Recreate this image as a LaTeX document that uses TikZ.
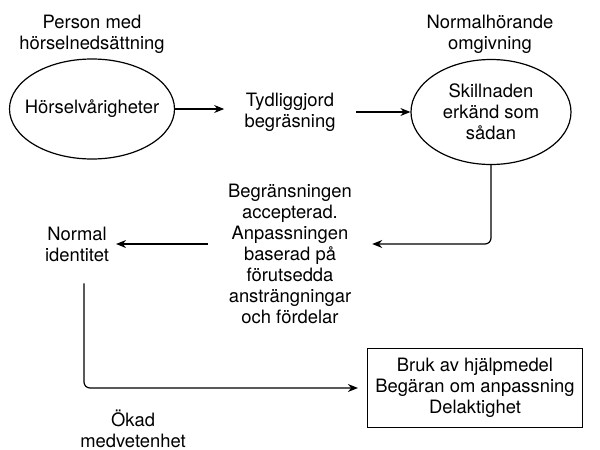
\documentclass[tikz,border=0pt]{standalone}
\usepackage{fontspec}
\setmainfont{TeX Gyre Heros}
\usetikzlibrary{shapes.geometric,arrows.meta}

\begin{document}
\begin{tikzpicture}[x=0.5pt,y=-0.5pt,font=\fontsize{9.2}{10.5}\selectfont,
  txt/.style={align=center,inner xsep=10pt},
  oval/.style={ellipse,draw,line width=0.6pt,align=center,inner sep=0pt,minimum width=#1},
  arr/.style={-{Stealth[length=5pt,width=4pt]},line width=0.6pt}]
\useasboundingbox (0,0) rectangle (600,450);
\node[align=center] (pers) at (92,34) {Person med\\hörselnedsättning};
\node[oval=82.5pt,minimum height=50pt,inner xsep=-5pt] (hv) at (92,109) {Hörselvårigheter};
\node[txt] (tyd) at (290,112) {Tydliggjord\\begräsning};
\node[align=center] (omg) at (490,34) {Normalhörande\\omgivning};
\node[oval=80pt,minimum height=52.5pt] (skill) at (491,112) {Skillnaden\\erkänd som\\sådan};
\node[txt] (mid) at (290,254) {Begränsningen\\accepterad.\\Anpassningen\\baserad på\\förutsedda\\ansträngningar\\och fördelar};
\node[align=center] (nid) at (77,244) {Normal\\identitet};
\node[draw,line width=0.6pt,minimum width=107.5pt,minimum height=39.5pt,align=center] (box) at (475,388) {Bruk av hjälpmedel\\Begäran om anpassning\\Delaktighet};
\node[align=center,inner ysep=1pt] (okad) at (133,429) {Ökad\\medvetenhet};
\draw[arr] (hv.east) -- (hv.east -| tyd.west);
\draw[arr] (tyd.east |- skill.west) -- (skill.west);
\draw[arr,rounded corners=3pt] (skill.south) |- ([yshift=5pt]mid.east);
\draw[arr] ([yshift=5pt]mid.west) -- (nid.east);
\draw[arr,rounded corners=3pt,shorten <=7.5pt,shorten >=4.5pt] ([xshift=3.5pt]nid.south) |- (box.west);
\end{tikzpicture}
\end{document}
